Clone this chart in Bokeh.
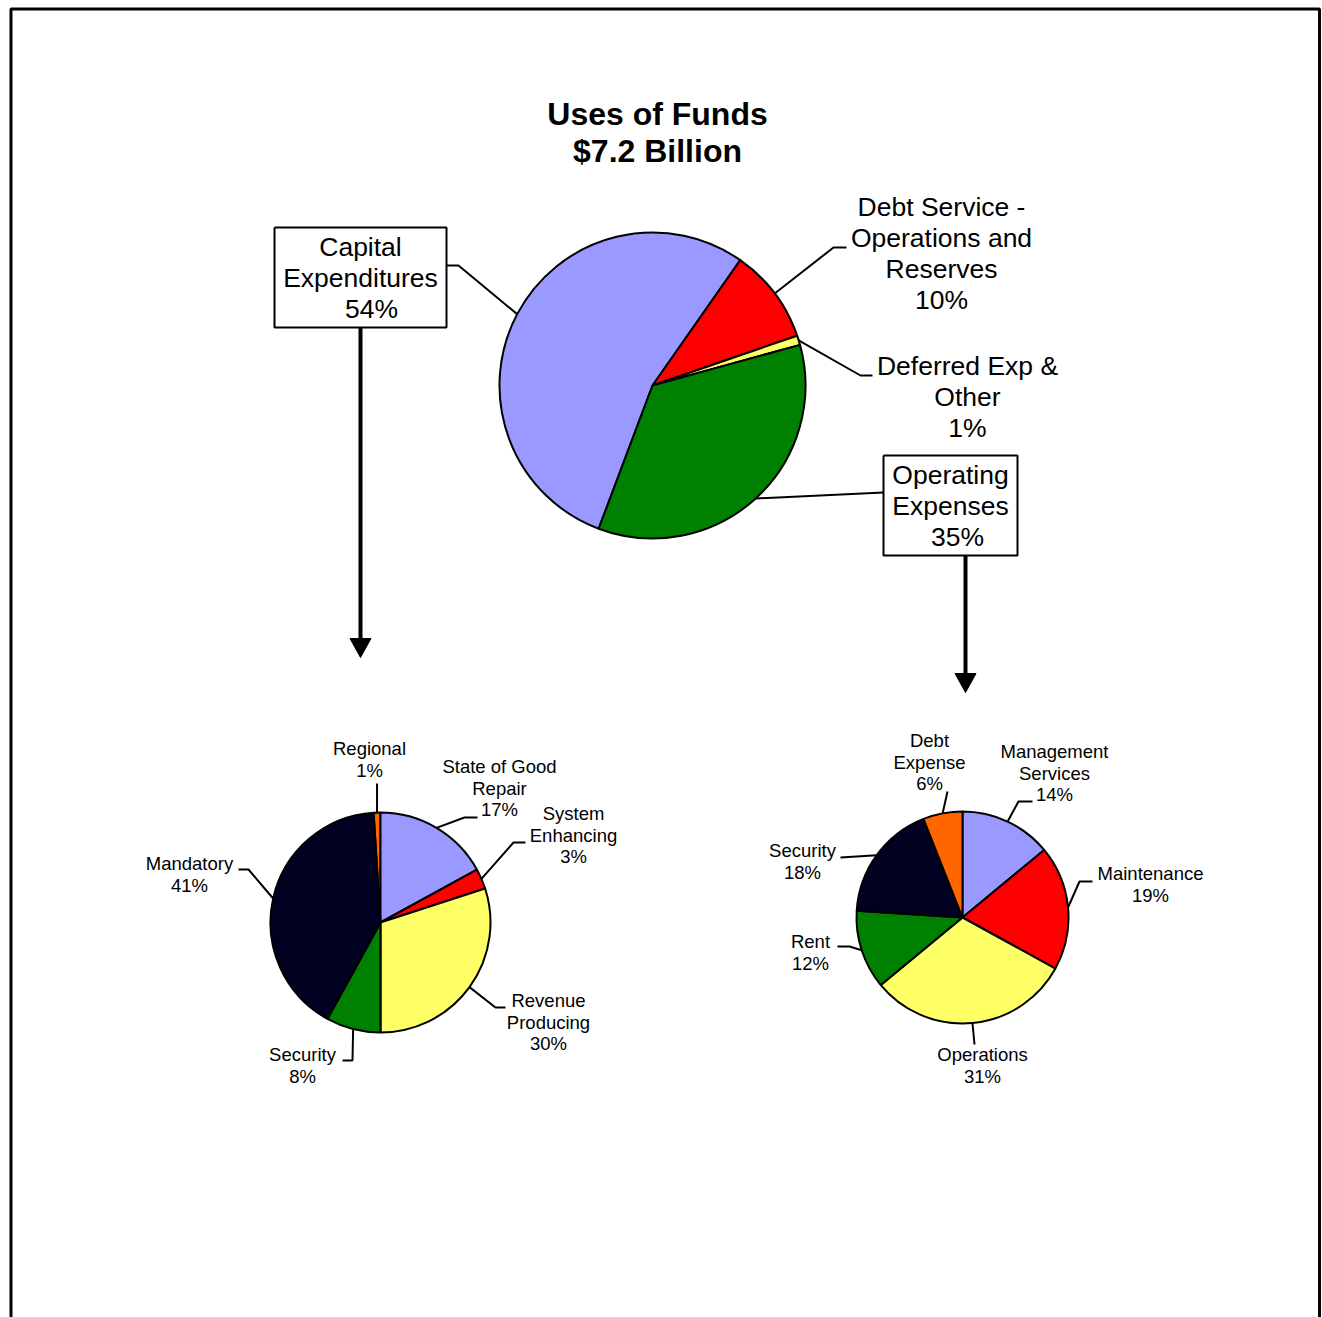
import math
from bokeh.plotting import figure
from bokeh.models import Range1d
from bokeh.core.properties import value
from bokeh.embed import file_html
from bokeh.resources import INLINE

# ---- data -------------------------------------------------------------
main_names = ["Capital\nExpenditures", "Debt Service -\nOperations and\nReserves",
              "Deferred Exp &\nOther", "Operating\nExpenses"]
main_values = [54, 10, 1, 35]
main_colors = ["#9999FF", "#FF0000", "#FFFF66", "#008000"]

capital_names = ["Regional", "State of Good\nRepair", "System\nEnhancing",
                 "Revenue\nProducing", "Security", "Mandatory"]
capital_values = [1, 17, 3, 30, 8, 41]
capital_colors = ["#FF6600", "#9999FF", "#FF0000", "#FFFF66", "#008000", "#000020"]

operating_names = ["Management\nServices", "Maintenance", "Operations", "Rent",
                   "Security", "Debt\nExpense"]
operating_values = [14, 19, 31, 12, 18, 6]
operating_colors = ["#9999FF", "#FF0000", "#FFFF66", "#008000", "#000020", "#FF6600"]

title_lines = ["Uses of Funds", "$7.2 Billion"]

# ---- canvas -----------------------------------------------------------
W, H = 1322, 1317
FONT = "Liberation Sans"

p = figure(width=W, height=H, x_range=Range1d(0, W), y_range=Range1d(0, H),
           x_axis_location=None, y_axis_location=None, toolbar_location=None,
           output_backend="svg", min_border=0)
p.outline_line_color = None
p.xgrid.visible = False
p.ygrid.visible = False
p.background_fill_color = "white"
p.border_fill_color = "white"


def Y(py):
    """page pixel row -> data y"""
    return H - py


def pie(cx, cy, r, values, colors, start_deg, lw):
    """Draw a clockwise pie starting at start_deg (clockwise from north).
    Returns the mid-angle edge point of each slice in page pixels."""
    total = float(sum(values))
    a = start_deg
    sa, ea, mids = [], [], []
    for v in values:
        span = 360.0 * v / total
        a0, a1 = a, a + span
        sa.append(math.radians(90 - a1))
        ea.append(math.radians(90 - a0))
        m = math.radians((a0 + a1) / 2)
        mids.append((cx + r * math.sin(m), cy - r * math.cos(m)))
        a = a1
    p.wedge(x=[cx] * len(values), y=[Y(cy)] * len(values), radius=r,
            start_angle=sa, end_angle=ea, fill_color=colors,
            line_color="black", line_width=lw)
    return mids


def leader(start, pts, lw=2):
    xs = [start[0]] + [q[0] for q in pts]
    ys = [Y(start[1])] + [Y(q[1]) for q in pts]
    p.line(xs, ys, line_color="black", line_width=lw)


def label(lines, cx, y0, lh, size, bold=False, dxs=None):
    for i, t in enumerate(lines):
        dx = dxs[i] if dxs else 0
        p.text(x=[cx + dx], y=[Y(y0 + i * lh)], text=[t], text_align="center",
               text_baseline="middle", text_font=value(FONT),
               text_font_size=f"{size}px",
               text_font_style="bold" if bold else "normal", text_color="black")


# ---- outer frame ------------------------------------------------------
p.line([10.5, 10.5, 1319, 1319], [Y(H + 5), Y(8.5), Y(8.5), Y(H + 5)],
       line_color="black", line_width=3)

# ---- title ------------------------------------------------------------
for i, t in enumerate(title_lines):
    label([t], 657, 113 + i * 37, 37, 32, bold=True)

# ---- main pie ---------------------------------------------------------
mm = pie(652, 385, 153, main_values, main_colors, 200.6, 2)

# boxes around the two drilled-down categories
for (x0, y0, x1, y1) in [(274, 227, 446, 327), (883, 455, 1017, 555)]:
    p.line([x0, x1, x1, x0, x0], [Y(y0), Y(y0), Y(y1), Y(y1), Y(y0)],
           line_color="black", line_width=2)

leader(mm[0], [(458, 265), (446, 265)])
leader(mm[1], [(833, 247), (846, 247)])
leader(mm[2], [(860, 375), (872, 375)])
leader(mm[3], [(883, 492)])

main_pos = [(360, 246, 11), (941, 206, 0), (967, 365, 0), (950, 474, 7)]
for name, v, (cx, y0, pdx) in zip(main_names, main_values, main_pos):
    lines = name.split("\n") + [f"{v}%"]
    dxs = [0] * (len(lines) - 1) + [pdx]
    label(lines, cx, y0, 31, 26.5, dxs=dxs)

# ---- drill-down arrows ------------------------------------------------
for ax, y_top, y_tip in [(360, 327, 657), (965, 555, 692)]:
    p.line([ax, ax], [Y(y_top), Y(y_tip - 14)], line_color="black", line_width=4)
    p.patch([ax - 10.5, ax + 10.5, ax], [Y(y_tip - 19), Y(y_tip - 19), Y(y_tip)],
            fill_color="black", line_color="black", line_width=1)

# ---- capital expenditures pie -----------------------------------------
cm = pie(380, 922, 110, capital_values, capital_colors, -3.6, 2)
leader(cm[0], [(cm[0][0], 783)])
leader(cm[1], [(464, 817), (477, 817)])
leader(cm[2], [(513, 842), (525, 842)])
leader(cm[3], [(495, 1007), (505, 1007)])
leader(cm[4], [(352, 1060), (342, 1060)])
leader(cm[5], [(248, 869), (238, 869)])

cap_pos = [(369, 748), (499, 766), (573, 813), (548, 1000), (302, 1054), (189, 863)]
for name, v, (cx, y0) in zip(capital_names, capital_values, cap_pos):
    label(name.split("\n") + [f"{v}%"], cx, y0, 21.7, 18.5)

# ---- operating expenses pie -------------------------------------------
om = pie(962, 917, 106, operating_values, operating_colors, 0, 2)
leader(om[0], [(1018, 801), (1032, 801)])
leader(om[1], [(1079, 881), (1092, 881)])
leader(om[2], [(974, 1044)])
leader(om[3], [(849, 946), (837, 946)])
leader(om[4], [(840, 857)])
leader(om[5], [(947, 791)])

op_pos = [(1054, 751), (1150, 873), (982, 1054), (810, 941), (802, 850), (929, 740)]
for name, v, (cx, y0) in zip(operating_names, operating_values, op_pos):
    label(name.split("\n") + [f"{v}%"], cx, y0, 21.7, 18.5)

open("out.html", "w").write(file_html(p, INLINE))
